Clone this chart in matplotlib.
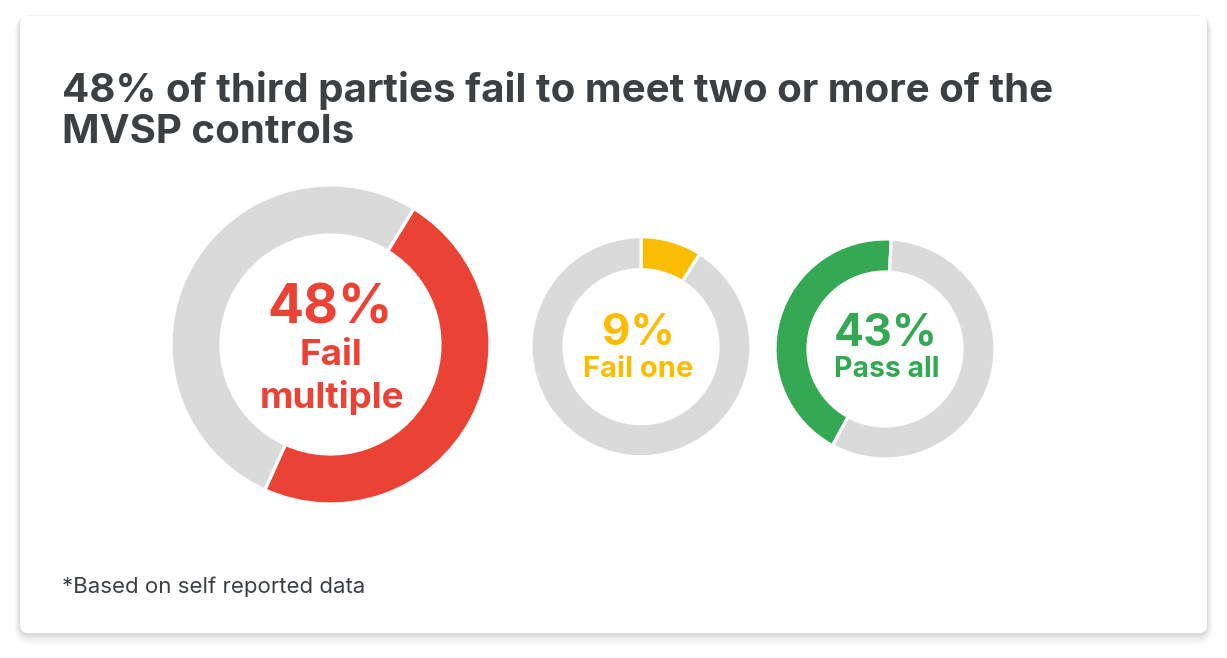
import matplotlib.pyplot as plt
from matplotlib.patches import FancyBboxPatch

# ---- data -------------------------------------------------------------------
shares = [48, 9, 43]
big_labels = ["48%", "9%", "43%"]
small_labels = ["Fail\nmultiple", "Fail one", "Pass all"]
colors = ["#ea4335", "#fbbc04", "#34a853"]
rest_color = "#dadada"
title = "48% of third parties fail to meet two or more of the\nMVSP controls"
footnote = "*Based on self reported data"

W, H = 1227, 658
TXT = "#3c4043"
FONT = ["Inter", "DejaVu Sans"]

fig = plt.figure(figsize=(W / 100, H / 100), dpi=100)
fig.patch.set_facecolor("#ffffff")
ax = fig.add_axes([0, 0, 1, 1])


def py(y):
    # pixel row (from top) -> data y
    return H - y


# ---- card with soft shadow ------------------------------------------------
x0, x1, top, bot = 20, 1207, 15.7, 633
for i, a in enumerate([0.035, 0.03, 0.025, 0.02, 0.015, 0.01]):
    g = 2 + i * 2
    sh = FancyBboxPatch((x0 - g * 0.5, py(bot) - g - 1), x1 - x0 + g, bot - top + g * 1.2,
                        boxstyle=f"round,pad=0,rounding_size={8 + g}",
                        fc="black", ec="none", alpha=a, zorder=0)
    ax.add_patch(sh)
card = FancyBboxPatch((x0, py(bot)), x1 - x0, bot - top,
                      boxstyle="round,pad=0,rounding_size=8",
                      fc="white", ec="none", zorder=1)
ax.add_patch(card)

# ---- donuts ---------------------------------------------------------------
centers = [(330.5, 344.5), (641, 346.7), (885, 349)]
radii = [159.5, 110, 110]
widths = [50, 33, 33]
starts = [58.5, 90, 86.7]
ccw = [False, False, True]

for v, c, (cx, cy), r, w, st, cc in zip(shares, colors, centers, radii, widths, starts, ccw):
    ax.pie([v, 100 - v], colors=[c, rest_color], center=(cx, py(cy)), radius=r,
           startangle=st, counterclock=cc,
           wedgeprops=dict(width=w, edgecolor="white", linewidth=2.3))

# centre labels
ax.text(330, py(323), big_labels[0], ha="center", va="baseline", fontsize=38.5,
        fontweight="bold", color=colors[0], family=FONT, zorder=5)
ax.text(331, py(365), "Fail", ha="center", va="baseline", fontsize=26.5,
        fontweight="bold", color=colors[0], family=FONT, zorder=5)
ax.text(332, py(408), "multiple", ha="center", va="baseline", fontsize=26.5,
        fontweight="bold", color=colors[0], family=FONT, zorder=5)

ax.text(638, py(345), big_labels[1], ha="center", va="baseline", fontsize=31.5,
        fontweight="bold", color=colors[1], family=FONT, zorder=5)
ax.text(638, py(377), small_labels[1], ha="center", va="baseline", fontsize=21,
        fontweight="bold", color=colors[1], family=FONT, zorder=5)

ax.text(886, py(346), big_labels[2], ha="center", va="baseline", fontsize=32,
        fontweight="bold", color=colors[2], family=FONT, zorder=5)
ax.text(887, py(377), small_labels[2], ha="center", va="baseline", fontsize=20.5,
        fontweight="bold", color=colors[2], family=FONT, zorder=5)

# ---- title & footnote -----------------------------------------------------
ax.text(62, py(102), title.split("\n")[0], ha="left", va="baseline", fontsize=29,
        fontweight="bold", color=TXT, family=FONT, zorder=5)
ax.text(62, py(143), title.split("\n")[1], ha="left", va="baseline", fontsize=29,
        fontweight="bold", color=TXT, family=FONT, zorder=5)
ax.text(62, py(593), footnote, ha="left", va="baseline", fontsize=16,
        color=TXT, family=FONT, zorder=5)

ax.set_xlim(0, W)
ax.set_ylim(0, H)
ax.set_aspect("auto")
ax.axis("off")

fig.savefig("out.png", dpi=100)
